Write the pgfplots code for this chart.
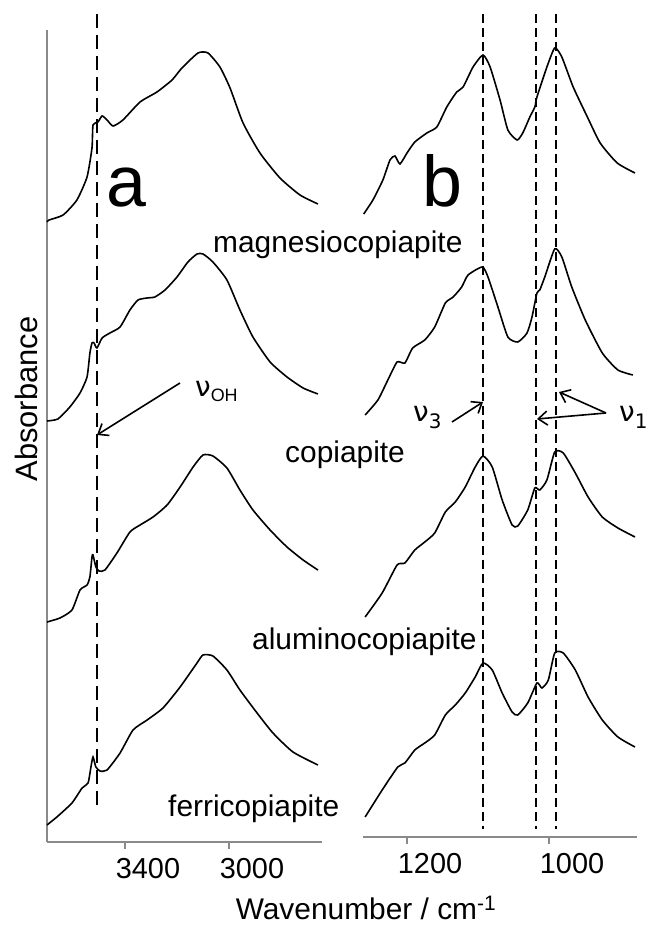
\documentclass[border=0pt]{standalone}
\usepackage{fontspec}
\setmainfont{Liberation Sans}
\newfontfamily\nufont{DejaVu Sans}
\usepackage{pgfplots}
\pgfplotsset{compat=1.18}
\usetikzlibrary{arrows.meta}

\definecolor{axisgray}{HTML}{8A8A8A}

\pgfplotsset{
  spec/.style={black, line width=1.6bp, smooth, tension=0.35, mark=none},
  panel/.style={
    scale only axis, anchor=south west, x dir=reverse,
    axis x line=bottom,
    axis line style={-, draw=axisgray, line width=1.4bp},
    every outer x axis line/.append style={-},
    every outer y axis line/.append style={-},
    x axis line style={-}, y axis line style={-},
    ytick=\empty, tick align=outside, major tick length=7bp,
    tick style={draw=axisgray, line width=1.2bp},
    xticklabel style={font=\fontsize{29}{34}\selectfont, xshift=23bp, yshift=-6bp},
    clip=false,
  },
}

\begin{document}
\begin{tikzpicture}[x=1bp, y=1bp]
\useasboundingbox (0,0) rectangle (648,925);

% ---------------- (a) O-H stretching region ----------------
\begin{axis}[panel,
  at={(47bp,83bp)}, width=275bp, height=812bp,
  xmin=2642.3, xmax=3700, ymin=0, ymax=8.12,
  axis y line=left,
  y axis line style={-},
  xtick={3400,3000}, xticklabels={3400,3000},
]
% magnesiocopiapite
\addplot[spec] table {
3700 6.20
3692 6.22
3638 6.27
3585 6.42
3546 6.65
3527 6.94
3523 7.17
3504 7.20
3488 7.26
3469 7.22
3446 7.16
3408 7.22
3342 7.40
3277 7.50
3219 7.62
3181 7.74
3119 7.89
3081 7.89
3035 7.75
2996 7.54
2946 7.19
2881 6.89
2804 6.64
2727 6.47
2658 6.38
};
% copiapite
\addplot[spec] table {
3700 4.21
3658 4.23
3612 4.35
3573 4.49
3546 4.65
3535 4.89
3527 4.99
3519 4.99
3508 4.94
3488 5.04
3458 5.09
3419 5.15
3381 5.32
3350 5.42
3315 5.44
3285 5.45
3246 5.52
3200 5.65
3158 5.80
3123 5.88
3100 5.88
3062 5.80
3008 5.62
2958 5.32
2908 5.05
2842 4.80
2777 4.65
2715 4.54
2658 4.48
};
% aluminocopiapite
\addplot[spec] table {
3700 2.20
3650 2.24
3604 2.32
3573 2.52
3546 2.57
3535 2.65
3527 2.85
3523 2.87
3512 2.75
3500 2.71
3477 2.72
3431 2.89
3381 3.10
3342 3.17
3292 3.25
3238 3.37
3188 3.55
3138 3.75
3100 3.87
3062 3.86
3008 3.74
2958 3.52
2908 3.32
2842 3.12
2777 2.95
2715 2.82
2658 2.72
};
% ferricopiapite
\addplot[spec] table {
3700 0.17
3662 0.25
3604 0.39
3565 0.54
3542 0.59
3531 0.75
3523 0.85
3512 0.75
3496 0.71
3469 0.72
3419 0.89
3369 1.12
3315 1.22
3254 1.34
3188 1.55
3123 1.79
3100 1.87
3062 1.86
3008 1.72
2958 1.52
2892 1.29
2831 1.09
2754 0.90
2658 0.77
};
% OH band position
\addplot[black, line width=2bp, dash pattern=on 14bp off 7bp]
  coordinates {(3508,8.28) (3508,0.32)};
\end{axis}

% ---------------- (b) sulfate stretching region ----------------
\begin{axis}[panel,
  at={(363bp,88bp)}, width=274bp, height=807bp,
  xmin=876.1, xmax=1262, ymin=0.05, ymax=8.12,
  axis y line=none,
  xtick={1200,1000}, xticklabels={1200,1000},
]
% magnesiocopiapite
\addplot[spec] table {
1261 6.28
1248 6.42
1234 6.62
1224 6.82
1217 6.86
1210 6.78
1200 6.89
1189 7.00
1172 7.09
1158 7.15
1144 7.35
1130 7.50
1121 7.55
1107 7.75
1093 7.87
1083 7.75
1069 7.42
1058 7.12
1045 7.02
1037 7.09
1027 7.25
1020 7.35
1017 7.45
1003 7.75
992 7.94
982 7.85
966 7.55
946 7.25
928 6.99
904 6.79
879 6.69
};
% copiapite
\addplot[spec] table {
1259 4.27
1241 4.42
1227 4.62
1214 4.80
1203 4.79
1192 4.94
1175 5.02
1161 5.15
1146 5.39
1135 5.45
1123 5.55
1114 5.67
1094 5.75
1086 5.65
1072 5.35
1058 5.05
1044 5.00
1031 5.09
1024 5.25
1017 5.49
1013 5.52
1006 5.65
992 5.93
982 5.85
968 5.55
949 5.22
925 4.89
903 4.72
882 4.67
};
% aluminocopiapite
\addplot[spec] table {
1259 2.25
1235 2.49
1214 2.77
1203 2.79
1189 2.92
1175 3.00
1161 3.09
1146 3.30
1132 3.40
1118 3.55
1104 3.75
1093 3.86
1080 3.75
1066 3.42
1052 3.17
1044 3.16
1030 3.32
1020 3.54
1013 3.52
1003 3.62
992 3.90
980 3.89
963 3.69
945 3.45
925 3.25
903 3.14
879 3.05
};
% ferricopiapite
\addplot[spec] table {
1259 0.25
1235 0.52
1213 0.75
1203 0.79
1189 0.92
1175 0.99
1161 1.07
1146 1.27
1132 1.37
1118 1.49
1104 1.65
1093 1.79
1080 1.72
1066 1.49
1052 1.30
1044 1.27
1030 1.39
1017 1.59
1010 1.54
1001 1.62
992 1.89
980 1.89
963 1.72
945 1.45
925 1.22
903 1.05
879 0.95
};
% band positions: nu3 and the two nu1 components
\addplot[black, line width=2.2bp, dash pattern=on 9bp off 5bp]
  coordinates {(1093,8.28) (1093,0.13)};
\addplot[black, line width=2.2bp, dash pattern=on 9bp off 5bp]
  coordinates {(1018,8.28) (1018,0.13)};
\addplot[black, line width=2.2bp, dash pattern=on 9bp off 5bp]
  coordinates {(990,8.28) (990,0.13)};
\end{axis}

% ---------------- labels and annotations ----------------
\node[rotate=90, font=\fontsize{31}{36}\selectfont] at (26,526) {Absorbance};
\node[font=\fontsize{30}{36}\selectfont] at (366,17) {Wavenumber / cm\textsuperscript{-1}};

\node[anchor=base west, inner sep=0, font=\fontsize{72}{80}\selectfont] at (106,718) {a};
\node[anchor=base west, inner sep=0, font=\fontsize{72}{80}\selectfont] at (422,718) {b};

\begin{scope}[every node/.style={anchor=base west, inner sep=0, font=\fontsize{30}{36}\selectfont}]
  \node at (213,672) {magnesiocopiapite};
  \node at (285,462) {copiapite};
  \node at (252,275) {aluminocopiapite};
  \node at (168,108) {ferricopiapite};
\end{scope}

\begin{scope}[line width=1.6bp, -{Straight Barb[length=9bp, width=14bp]}]
  \draw (180,542) -- (97,490);
  \draw (452,503) -- (483,523);
  \draw (606,512) -- (559,533);
  \draw (606,512) -- (537,506);
\end{scope}

\node[anchor=base west, inner sep=0, font=\nufont\fontsize{28}{32}\selectfont]
  at (195,528) {ν\raisebox{-5bp}{\fontsize{18}{20}\selectfont\normalfont OH}};
\node[anchor=base west, inner sep=0, font=\nufont\fontsize{28}{32}\selectfont]
  at (413,503) {ν\raisebox{-7bp}{\fontsize{20}{22}\selectfont 3}};
\node[anchor=base west, inner sep=0, font=\nufont\fontsize{28}{32}\selectfont]
  at (619,503) {ν\raisebox{-7bp}{\fontsize{20}{22}\selectfont 1}};
\end{tikzpicture}
\end{document}
